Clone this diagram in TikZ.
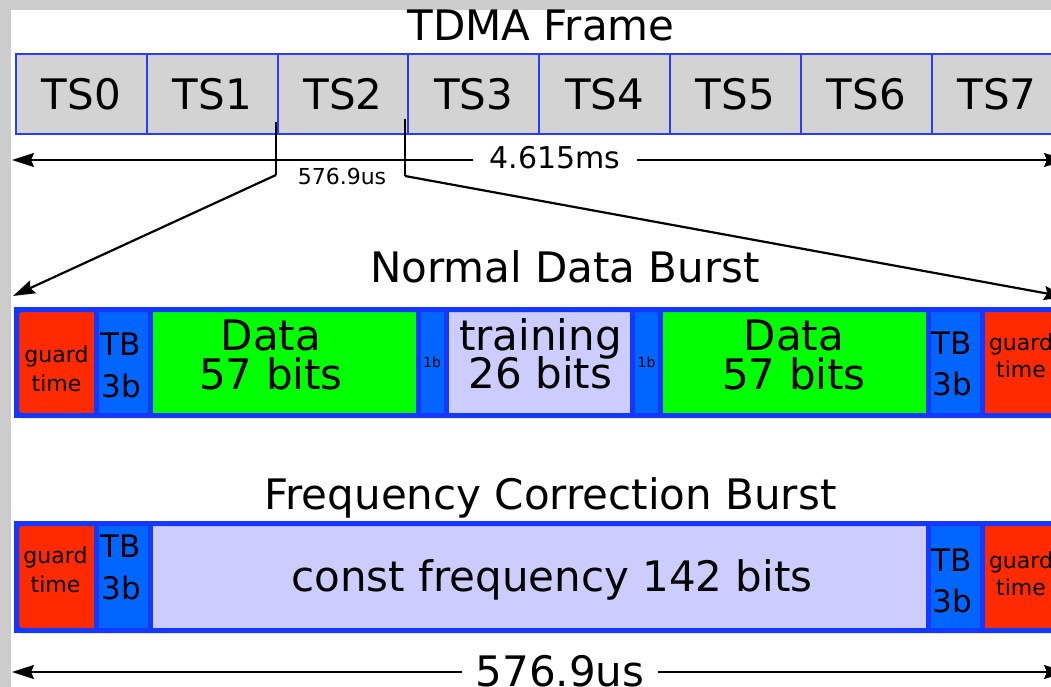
\documentclass[tikz,border=0pt]{standalone}
\usepackage{fontspec}
\setmainfont{DejaVu Sans}
\usetikzlibrary{arrows.meta}
\definecolor{bggray}{HTML}{CCCCCC}
\definecolor{slotfill}{HTML}{D3D3D3}
\definecolor{slotline}{HTML}{2A3CFF}
\definecolor{burstline}{HTML}{1438FF}
\definecolor{tbblue}{HTML}{0066FF}
\definecolor{guardred}{HTML}{FF2A00}
\definecolor{datagreen}{HTML}{00FF00}
\definecolor{lavender}{HTML}{CCCCFF}
\tikzset{
  txtbig/.style={font=\fontsize{42pt}{48pt}\selectfont},
  txttb/.style={font=\fontsize{31pt}{36pt}\selectfont},
  txtms/.style={font=\fontsize{30pt}{36pt}\selectfont},
  txtguard/.style={font=\fontsize{22pt}{26pt}\selectfont},
  txtsmall/.style={font=\fontsize{22pt}{26pt}\selectfont},
  txtbit/.style={font=\fontsize{14pt}{16pt}\selectfont},
  lbl/.style={anchor=base, inner sep=0pt},
  slotbox/.style={draw=slotline, fill=slotfill, line width=2pt, inner sep=0pt,
    minimum width=130.8pt, minimum height=80pt, txtbig},
  cellbox/.style={draw=burstline, line width=5pt, inner sep=0pt},
  outerbox/.style={draw=burstline, line width=5pt, rounded corners=5pt, inner sep=0pt},
  arr/.style={line width=2.2pt, -{Stealth[length=22pt,width=14pt,inset=3pt]}},
  thinline/.style={line width=2.2pt},
  gapnode/.style={fill=white, inner xsep=16pt, inner ysep=3pt, anchor=base},
}
\begin{document}
\begin{tikzpicture}[x=1pt,y=-1pt]
\useasboundingbox (0,0) rectangle (1051,687);
\fill[bggray] (0,0) rectangle (1051,687);
\fill[white] (11,10) rectangle (1051,687);
\begin{scope}
\clip (11,10) rectangle (1051,687);

% ---------- TDMA frame ----------
\node[lbl,txtbig] (title) at (541,40.5) {TDMA Frame};
\foreach \i in {0,...,7}
  \node[slotbox] (ts\i) at ({16+130.8*(\i+0.5)},94) {TS\i};

\coordinate (fl) at (12,160);
\coordinate (fr) at (1066,160);
\node[gapnode,txtms] (frdur) at (555,168) {4.615ms};
\draw[arr] (frdur.west |- fl) -- (fl);
\draw[arr] (frdur.east |- fr) -- (fr);

\coordinate (k1t) at (276,122);
\coordinate (k1b) at (276,175);
\coordinate (k2t) at (405,119);
\coordinate (k2b) at (405,176);
\draw[thinline] (k1t) -- (k1b);
\draw[thinline] (k2t) -- (k2b);
\node[lbl,txtsmall] (slotdur) at (342,185) {576.9us};
\coordinate (nl) at (13,296);
\coordinate (nr) at (1066,297);
\draw[arr] (k1b) -- (nl);
\draw[arr] (k2b) -- (nr);

% ---------- Normal data burst ----------
\node[lbl,txtbig] (ndbt) at (565,282) {Normal Data Burst};
\begin{scope}[every node/.append style={minimum height=106pt}]
\node[cellbox,fill=guardred,minimum width=80pt]    (n1) at (56.5,362.5) {};
\node[cellbox,fill=tbblue,minimum width=54pt]      (n2) at (123.5,362.5) {};
\node[cellbox,fill=datagreen,minimum width=267.5pt](n3) at (284.25,362.5) {};
\node[cellbox,fill=tbblue,minimum width=28pt,txtbit] (n4) at (432,362.5) {1b};
\node[cellbox,fill=lavender,minimum width=186.5pt] (n5) at (539.25,362.5) {};
\node[cellbox,fill=tbblue,minimum width=28pt,txtbit] (n6) at (646.5,362.5) {1b};
\node[cellbox,fill=datagreen,minimum width=267.5pt](n7) at (794.25,362.5) {};
\node[cellbox,fill=tbblue,minimum width=54.5pt]    (n8) at (955.25,362.5) {};
\node[cellbox,fill=guardred,minimum width=80pt]    (n9) at (1022.5,362.5) {};
\node[outerbox,minimum width=1046pt] (nb) at (539.5,362.5) {};
\end{scope}
\node[lbl,txtguard] (n1a) at (56.5,362) {guard};
\node[lbl,txtguard] (n1b) at (56.5,391) {time};
\node[lbl,txttb] (n2a) at (121,355) {TB};
\node[lbl,txttb] (n2b) at (121,397) {3b};
\node[lbl,txtbig] (n3a) at (271,350) {Data};
\node[lbl,txtbig] (n3b) at (271,389) {57 bits};
\node[lbl,txtbig] (n5a) at (540.5,350) {training};
\node[lbl,txtbig] (n5b) at (540.5,388) {26 bits};
\node[lbl,txtbig] (n7a) at (794,350) {Data};
\node[lbl,txtbig] (n7b) at (794,389) {57 bits};
\node[lbl,txttb] (n8a) at (952,354) {TB};
\node[lbl,txttb] (n8b) at (952,395) {3b};
\node[lbl,txtguard] (n9a) at (1021,350) {guard};
\node[lbl,txtguard] (n9b) at (1021,377) {time};

% ---------- Frequency correction burst ----------
\node[lbl,txtbig] (fcbt) at (550.5,509) {Frequency Correction Burst};
\begin{scope}[every node/.append style={minimum height=107pt}]
\node[cellbox,fill=guardred,minimum width=80pt]    (f1) at (56.5,577) {};
\node[cellbox,fill=tbblue,minimum width=54pt]      (f2) at (123.5,577) {};
\node[cellbox,fill=lavender,minimum width=777.5pt] (f3) at (539.25,577) {};
\node[cellbox,fill=tbblue,minimum width=54.5pt]    (f4) at (955.25,577) {};
\node[cellbox,fill=guardred,minimum width=80pt]    (f5) at (1022.5,577) {};
\node[outerbox,minimum width=1046pt] (fb) at (539.5,577) {};
\end{scope}
\node[lbl,txtguard] (f1a) at (55.5,563) {guard};
\node[lbl,txtguard] (f1b) at (55.5,592) {time};
\node[lbl,txttb] (f2a) at (121,557) {TB};
\node[lbl,txttb] (f2b) at (121,599) {3b};
\node[lbl,txtbig] (f3a) at (552,591) {const frequency 142 bits};
\node[lbl,txttb] (f4a) at (952,571) {TB};
\node[lbl,txttb] (f4b) at (952,612) {3b};
\node[lbl,txtguard] (f5a) at (1021,568) {guard};
\node[lbl,txtguard] (f5b) at (1021,595) {time};

% ---------- burst duration ----------
\coordinate (bl) at (12,672);
\coordinate (br) at (1066,672);
\node[gapnode,txtbig,inner xsep=13pt] (bdur) at (560,686) {576.9us};
\draw[arr] (bdur.west |- bl) -- (bl);
\draw[arr] (bdur.east |- br) -- (br);
\end{scope}
\end{tikzpicture}
\end{document}
